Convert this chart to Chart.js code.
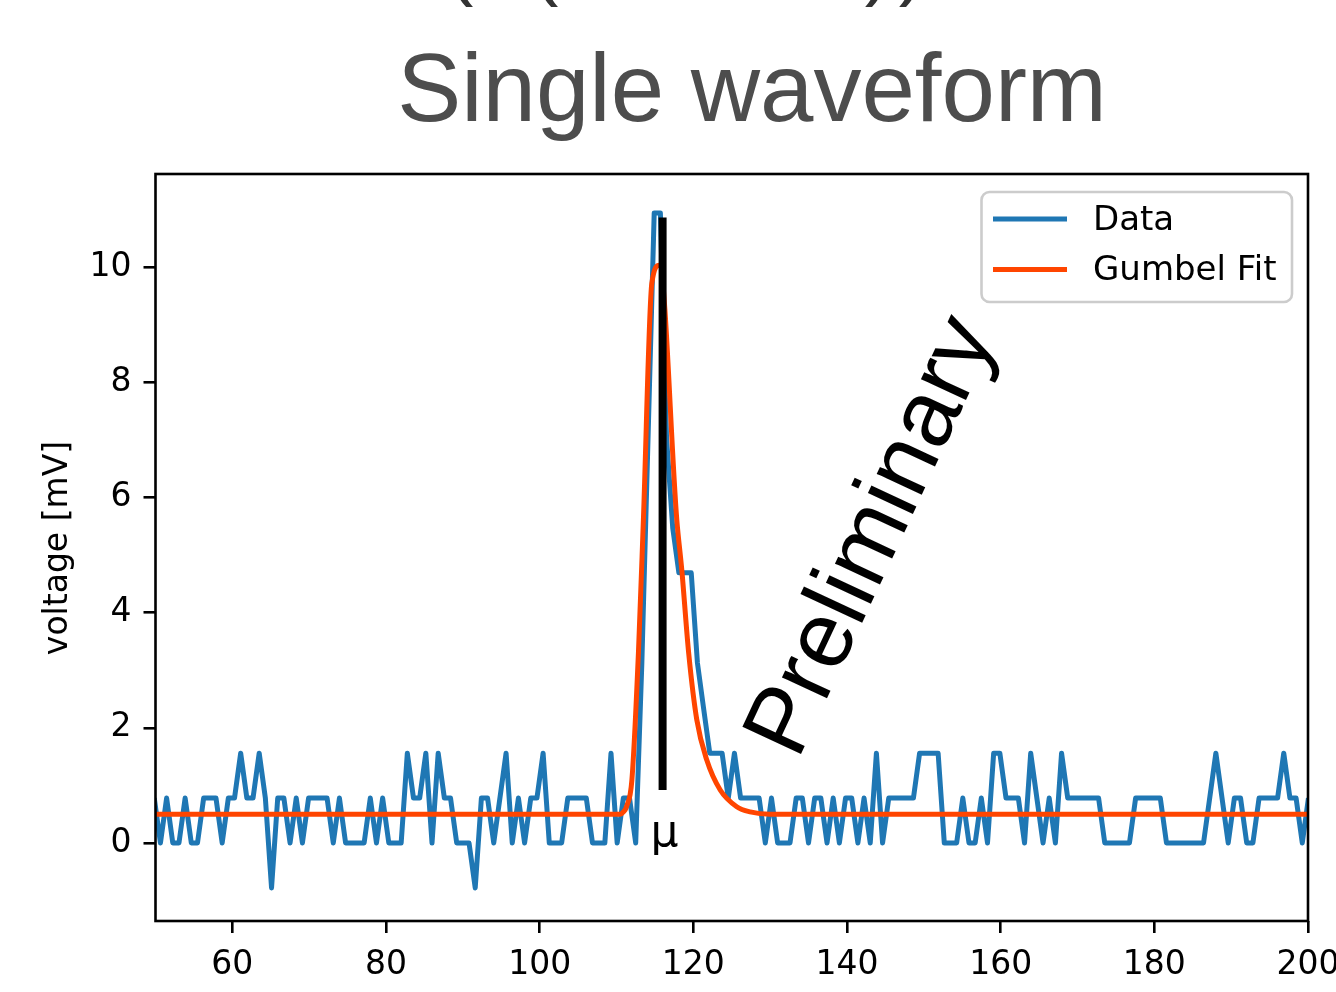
<!DOCTYPE html>
<html>
<head>
<meta charset="utf-8">
<script src="https://cdn.jsdelivr.net/npm/chart.js@4.4.1/dist/chart.umd.min.js"></script>
<style>
  html, body { margin: 0; padding: 0; background: #fff; overflow: hidden; }
  canvas { display: block; }
</style>
</head>
<body>
<canvas id="waveform" width="1336" height="992"></canvas>
<script>
// time base of the digitizer trace (first sample just left of the axis)
const sampleStart = 49.84;
const samplePeriod = 0.8033;

const voltage = [
  0.78, 0, 0.78, 0, 0, 0.78, 0, 0, 0.78, 0.78,
  0.78, 0, 0.78, 0.78, 1.56, 0.78, 0.78, 1.56, 0.78, -0.78,
  0.78, 0.78, 0, 0.78, 0, 0.78, 0.78, 0.78, 0.78, 0,
  0.78, 0, 0, 0, 0, 0.78, 0, 0.78, 0, 0,
  0, 1.56, 0.78, 0.78, 1.56, 0, 1.56, 0.78, 0.78, 0,
  0, 0, -0.78, 0.78, 0.78, 0, 0.78, 1.56, 0, 0.78,
  0, 0.78, 0.78, 1.56, 0, 0, 0, 0.78, 0.78, 0.78,
  0.78, 0, 0, 0, 1.56, 0, 0.78, 0.78, 0, 3.13,
  7.03, 10.94, 10.94, 7.03, 5.47, 4.69, 4.69, 4.69, 3.13, 2.34,
  1.56, 1.56, 1.56, 0.78, 1.56, 0.78, 0.78, 0.78, 0.78, 0,
  0.78, 0, 0, 0, 0.78, 0.78, 0, 0.78, 0.78, 0,
  0.78, 0, 0.78, 0.78, 0, 0.78, 0, 1.56, 0, 0.78,
  0.78, 0.78, 0.78, 0.78, 1.56, 1.56, 1.56, 1.56, 0, 0,
  0, 0.78, 0, 0, 0.78, 0, 1.56, 1.56, 0.78, 0.78,
  0.78, 0, 1.56, 0.78, 0, 0.78, 0, 1.56, 0.78, 0.78,
  0.78, 0.78, 0.78, 0.78, 0, 0, 0, 0, 0, 0.78,
  0.78, 0.78, 0.78, 0.78, 0, 0, 0, 0, 0, 0,
  0, 0.78, 1.56, 0.78, 0, 0.78, 0.78, 0, 0, 0.78,
  0.78, 0.78, 0.78, 1.56, 0.78, 0.78, 0, 0.78
];

// gumbel fit curve
const fitTime = [50, 110.5, 110.9, 111.3, 112.0, 112.85, 113.5, 114.6, 115.6, 117.85, 118.5, 119.4, 120.45, 121.75, 123.5, 125.65, 127.4, 130, 200];
const fitVoltage = [0.5, 0.5, 0.54, 0.63, 1.09, 3.29, 5.61, 9.72, 10.03, 5.61, 4.74, 3.29, 2.14, 1.44, 0.92, 0.63, 0.54, 0.5, 0.5];

// fitted location parameter mu
const muTime = 116.0;
const muSpan = [0.92, 10.86];

const xTicks = [60, 80, 100, 120, 140, 160, 180, 200];
const yTicks = [0, 2, 4, 6, 8, 10];
const seriesNames = ["Data", "Gumbel Fit"];
const seriesColors = ["#1f77b4", "#ff4500"];

const dataPoints = voltage.map((v, i) => ({ x: sampleStart + i * samplePeriod, y: v }));
const fitPoints = fitTime.map((t, i) => ({ x: t, y: fitVoltage[i] }));
const muPoints = muSpan.map((v) => ({ x: muTime, y: v }));

const tickFont = { family: "DejaVu Sans", size: 33 };

const overlay = {
  id: "overlay",
  afterDraw(chart) {
    const { ctx, chartArea: a, scales } = chart;
    ctx.save();

    // axes frame
    ctx.strokeStyle = "#000";
    ctx.lineWidth = 2.6;
    ctx.strokeRect(a.left, a.top, a.right - a.left, a.bottom - a.top);

    // cut-off line of text above the title
    ctx.fillStyle = "#333";
    ctx.font = '80px "Liberation Sans", Arial, sans-serif';
    ctx.textAlign = "center";
    ctx.textBaseline = "alphabetic";
    ctx.fillText("(", 460, -10);
    ctx.fillText("(", 545, -10);
    ctx.fillText(")", 878, -10);
    ctx.fillText(")", 912, -10);

    // title
    ctx.fillStyle = "#4d4d4d";
    ctx.font = '96px "Liberation Sans", Arial, sans-serif';
    ctx.fillText("Single waveform", 752, 121);

    // y axis label
    ctx.fillStyle = "#000";
    ctx.save();
    ctx.translate(58, 548);
    ctx.rotate(-Math.PI / 2);
    ctx.font = '33px "DejaVu Sans"';
    ctx.textBaseline = "middle";
    ctx.fillText("voltage [mV]", 0, 0);
    ctx.restore();

    // mu label
    ctx.font = '44px "DejaVu Sans"';
    ctx.textBaseline = "alphabetic";
    ctx.fillText("\u03bc", scales.x.getPixelForValue(muTime) + 2, scales.y.getPixelForValue(-0.05));

    // watermark
    ctx.save();
    ctx.translate(897, 548);
    ctx.rotate(-65 * Math.PI / 180);
    ctx.font = '94px "Liberation Sans", Arial, sans-serif';
    ctx.fillText("Preliminary", 0, 0);
    ctx.restore();

    // legend
    ctx.beginPath();
    ctx.roundRect(981.5, 192, 310.5, 110, 8);
    ctx.fillStyle = "rgba(255,255,255,0.8)";
    ctx.fill();
    ctx.strokeStyle = "#cccccc";
    ctx.lineWidth = 2.6;
    ctx.stroke();
    ctx.font = '34px "DejaVu Sans"';
    ctx.textAlign = "left";
    ctx.textBaseline = "middle";
    seriesNames.forEach((name, i) => {
      const y = 219 + i * 50.5;
      ctx.strokeStyle = seriesColors[i];
      ctx.lineWidth = 5;
      ctx.beginPath();
      ctx.moveTo(993, y);
      ctx.lineTo(1067, y);
      ctx.stroke();
      ctx.fillStyle = "#000";
      ctx.fillText(name, 1093, y + 2);
    });

    ctx.restore();
  }
};

new Chart(document.getElementById("waveform"), {
  type: "line",
  data: {
    datasets: [
      {
        label: "mu",
        data: muPoints,
        borderColor: "#000",
        borderWidth: 8,
        borderCapStyle: "butt",
        pointRadius: 0,
        order: 0
      },
      {
        label: seriesNames[1],
        data: fitPoints,
        borderColor: seriesColors[1],
        borderWidth: 5,
        cubicInterpolationMode: "monotone",
        pointRadius: 0,
        order: 1
      },
      {
        label: seriesNames[0],
        data: dataPoints,
        borderColor: seriesColors[0],
        borderWidth: 5,
        borderJoinStyle: "round",
        tension: 0,
        pointRadius: 0,
        order: 2
      }
    ]
  },
  options: {
    responsive: false,
    animation: false,
    devicePixelRatio: 1,
    layout: { padding: { top: 174, right: 28, bottom: 0, left: 0 } },
    plugins: {
      legend: { display: false },
      title: { display: false },
      tooltip: { enabled: false }
    },
    scales: {
      x: {
        type: "linear",
        min: 50,
        max: 200,
        afterBuildTicks: (s) => { s.ticks = xTicks.map((v) => ({ value: v })); },
        afterFit: (s) => { s.height = 71; s.paddingLeft = 0; s.paddingRight = 0; },
        border: { display: false },
        grid: { drawOnChartArea: false, drawTicks: true, tickLength: 12, color: "#000", lineWidth: 2.6 },
        ticks: { font: tickFont, color: "#000", padding: 13, maxRotation: 0, autoSkip: false }
      },
      y: {
        min: -1.354,
        max: 11.615,
        afterBuildTicks: (s) => { s.ticks = yTicks.map((v) => ({ value: v })); },
        afterFit: (s) => { s.width = 155.5; s.paddingTop = 0; s.paddingBottom = 0; },
        border: { display: false },
        grid: { drawOnChartArea: false, drawTicks: true, tickLength: 12, color: "#000", lineWidth: 2.6 },
        ticks: { font: tickFont, color: "#000", padding: 12 }
      }
    }
  },
  plugins: [overlay]
});
</script>
</body>
</html>
